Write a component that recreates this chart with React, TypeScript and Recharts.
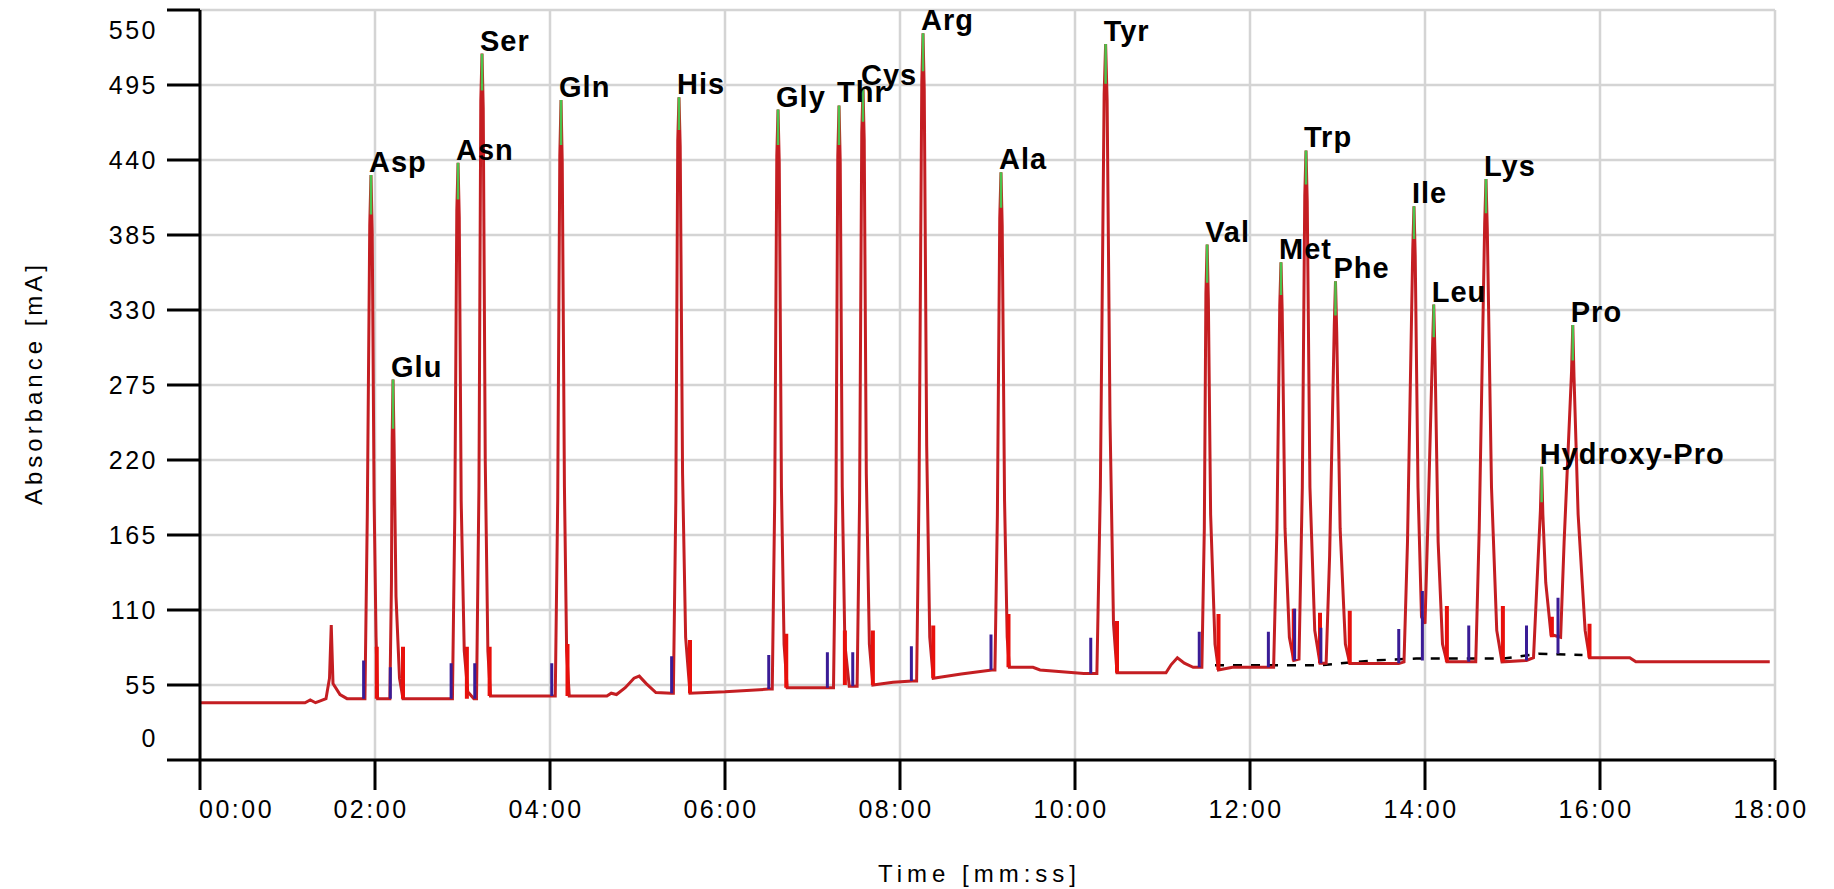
import React from "react";
import {
  ComposedChart,
  Line,
  XAxis,
  YAxis,
  CartesianGrid,
  LabelList,
  Label,
} from "recharts";

// chromatogram trace: [time in min, absorbance mA]
const trace: [number, number][] = [
  [0, 42], [1.2, 42], [1.26, 44], [1.32, 42], [1.36, 43], [1.44, 45], [1.48, 60], [1.5, 99], [1.52, 56], [1.6, 48], [1.68, 45], [1.86, 45],
  [1.885, 45], [1.912, 180], [1.94, 392], [1.954, 429], [1.968, 388], [1.99, 190], [2.012, 90], [2.03, 45],
  [2.17, 45], [2.188, 130], [2.196, 236], [2.206, 279], [2.218, 232], [2.24, 120], [2.28, 60], [2.32, 45],
  [2.86, 45],
  [2.885, 45], [2.912, 180], [2.935, 403], [2.949, 438], [2.963, 398], [2.985, 190], [3.02, 80], [3.06, 50], [3.13, 45],
  [3.16, 45], [3.188, 200], [3.209, 483], [3.223, 518], [3.237, 478], [3.26, 220], [3.29, 80], [3.32, 47],
  [4.03, 47],
  [4.06, 47], [4.088, 190], [4.112, 443], [4.126, 484], [4.14, 438], [4.165, 200], [4.19, 80], [4.22, 47],
  [4.65, 47], [4.7, 49], [4.76, 48], [4.86, 53], [4.96, 60], [5.02, 61.5], [5.1, 56], [5.21, 49.5], [5.39, 49],
  [5.41, 49], [5.438, 190], [5.46, 454], [5.474, 486], [5.488, 450], [5.515, 210], [5.55, 90], [5.6, 49],
  [6.0, 50], [6.5, 52],
  [6.54, 52], [6.568, 190], [6.592, 443], [6.606, 477], [6.62, 438], [6.645, 200], [6.675, 85], [6.71, 53],
  [7.18, 53],
  [7.24, 53], [7.268, 190], [7.289, 443], [7.303, 480], [7.317, 438], [7.34, 200], [7.37, 85], [7.42, 54], [7.47, 54],
  [7.51, 54], [7.538, 190], [7.563, 460], [7.577, 493], [7.591, 455], [7.615, 210], [7.65, 85], [7.69, 55],
  [7.92, 57], [8.14, 58],
  [8.19, 58], [8.218, 200], [8.249, 497], [8.263, 533], [8.277, 492], [8.305, 230], [8.34, 90], [8.38, 60],
  [8.7, 63], [9.05, 66],
  [9.085, 66], [9.113, 180], [9.14, 397], [9.154, 431], [9.168, 392], [9.195, 190], [9.225, 90], [9.25, 68],
  [9.52, 68], [9.6, 66], [10.1, 63.5], [10.19, 63.5],
  [10.25, 63.5], [10.29, 200], [10.333, 488], [10.35, 525], [10.367, 484], [10.4, 250], [10.44, 100], [10.48, 64],
  [11.04, 64], [11.1, 70], [11.17, 75], [11.25, 71], [11.35, 68], [11.43, 68],
  [11.45, 68], [11.478, 170], [11.496, 342], [11.51, 378], [11.524, 338], [11.55, 180], [11.6, 85], [11.64, 66],
  [11.8, 68], [12.22, 68],
  [12.27, 68], [12.308, 170], [12.34, 333], [12.354, 365], [12.368, 329], [12.4, 170], [12.45, 90], [12.5, 73],
  [12.56, 74], [12.598, 200], [12.626, 414], [12.64, 447], [12.654, 410], [12.685, 200], [12.74, 95], [12.8, 71],
  [12.87, 71], [12.91, 150], [12.963, 318], [12.977, 351], [12.991, 314], [13.03, 170], [13.09, 85], [13.14, 70.7],
  [13.7, 70.7],
  [13.76, 72], [13.8, 160], [13.86, 374], [13.874, 406], [13.888, 370], [13.92, 200], [13.96, 105],
  [14.0, 100], [14.04, 190], [14.086, 302], [14.1, 334], [14.114, 298], [14.15, 160], [14.2, 85], [14.25, 72],
  [14.5, 72],
  [14.58, 72], [14.62, 170], [14.682, 393], [14.697, 426], [14.712, 389], [14.76, 200], [14.82, 95], [14.88, 72],
  [15.16, 73],
  [15.24, 75], [15.28, 130], [15.319, 183], [15.333, 215], [15.347, 180], [15.38, 130], [15.44, 92],
  [15.55, 90], [15.59, 160], [15.675, 285], [15.689, 319], [15.703, 281], [15.75, 180], [15.83, 95], [15.88, 75],
  [16.34, 75], [16.41, 72], [17.94, 72],
];

const peakNames = ["Asp", "Glu", "Asn", "Ser", "Gln", "His", "Gly", "Thr", "Cys", "Arg", "Ala", "Tyr", "Val", "Met", "Trp", "Phe", "Ile", "Leu", "Lys", "Hydroxy-Pro", "Pro"];
const peakTimes = [1.954, 2.206, 2.949, 3.223, 4.126, 5.474, 6.606, 7.303, 7.577, 8.263, 9.154, 10.35, 11.51, 12.354, 12.64, 12.977, 13.874, 14.1, 14.697, 15.333, 15.689];
const peakApex = [429, 279, 438, 518, 484, 486, 477, 480, 493, 533, 431, 525, 378, 365, 447, 351, 406, 334, 426, 215, 319];
const peakGreenFrom = [400, 243, 411, 491, 451, 462, 451, 451, 468, 505, 405, 496, 350, 341, 422, 326, 382, 310, 401, 189, 293];

const startMarkTimes = [1.87, 2.175, 2.87, 3.14, 4.02, 5.39, 6.5, 7.17, 7.46, 8.13, 9.04, 10.18, 11.42, 12.21, 12.51, 12.81, 13.7, 13.97, 14.5, 15.16, 15.52];
const startMarkTops = [73, 68, 71, 71, 71, 76, 77, 79, 79, 83.5, 92, 89.6, 94, 94, 111, 97, 96, 124, 98.6, 98.6, 119];
const startMarkBases = [45, 45, 45, 45, 47, 49, 52, 53, 54, 58, 66, 63.5, 68, 68, 73, 71, 71, 73, 72, 73, 78];

const endMarkTimes = [2.02, 2.32, 3.05, 3.31, 4.2, 5.6, 6.7, 7.37, 7.69, 8.38, 9.24, 10.48, 11.64, 12.5, 12.8, 13.14, 14.25, 14.89, 15.45, 15.88];
const endMarkTops = [83, 83, 83, 83, 85, 88, 92.5, 95, 95, 98.6, 107, 102, 107, 111, 108, 109.5, 113, 113, 105, 100];
const endMarkBases = [45, 45, 45, 47, 47, 49, 53, 55, 55, 60, 68, 64, 66, 73, 71, 70.7, 72, 72, 90, 75];

const dashedBaseline: [number, number][] = [
  [11.6, 69.5], [12.8, 69.5], [13.4, 73], [13.9, 74.4], [14.9, 74.4], [15.3, 78], [15.8, 77],
];

const xTicks = [0, 2, 4, 6, 8, 10, 12, 14, 16, 18];
const xTickLabels = ["00:00", "02:00", "04:00", "06:00", "08:00", "10:00", "12:00", "14:00", "16:00", "18:00"];
const yTicks = [0, 55, 110, 165, 220, 275, 330, 385, 440, 495, 550];

const FONT = "'Liberation Sans', Arial, sans-serif";

function segments(times: number[], from: number[], to: number[]) {
  const out: { t: number; v: number | null }[] = [];
  times.forEach((t, i) => {
    out.push({ t, v: from[i] });
    out.push({ t, v: to[i] });
    out.push({ t, v: null });
  });
  return out;
}

const traceData = trace.map(([t, v]) => ({ t, v }));
const dashedData = dashedBaseline.map(([t, v]) => ({ t, v }));
const greenData = segments(peakTimes, peakGreenFrom, peakApex);
const startData = segments(startMarkTimes, startMarkBases, startMarkTops);
const endData = segments(endMarkTimes, endMarkBases, endMarkTops);
const labelData = peakTimes.map((t, i) => ({ t, v: peakApex[i], name: peakNames[i] }));

function YTick(props: any) {
  const { x, y, payload } = props;
  let dy = 0;
  if (payload.value === 550) dy = 20;
  if (payload.value === 0) dy = -22;
  return (
    <text x={x} y={y + dy} textAnchor="end" dominantBaseline="central" fontFamily={FONT} fontSize={25} letterSpacing={2.5} fill="#000">
      {payload.value}
    </text>
  );
}

function XTick(props: any) {
  const { x, y, index } = props;
  const first = index === 0;
  return (
    <text x={first ? x - 1 : x - 4} y={y + 22} textAnchor={first ? "start" : "middle"} fontFamily={FONT} fontSize={25} letterSpacing={2.5} fill="#000">
      {xTickLabels[index]}
    </text>
  );
}

function PeakLabel(props: any) {
  const { x, y, value } = props;
  return (
    <text x={x - 2} y={y - 3} fontFamily={FONT} fontWeight="bold" fontSize={29} letterSpacing={1} fill="#000">
      {value}
    </text>
  );
}

export default function App() {
  return (
    <div style={{ position: "absolute", left: 0, top: 0, width: 1834, height: 889, background: "#fff", overflow: "hidden" }}>
      <ComposedChart width={1834} height={889} margin={{ top: 10, right: 59, bottom: 0, left: 0 }}>
        <CartesianGrid stroke="#d4d4d4" strokeWidth={2.5} />
        <XAxis
          dataKey="t"
          type="number"
          domain={[0, 18]}
          ticks={xTicks}
          height={129}
          tickSize={30}
          tickMargin={6}
          axisLine={{ stroke: "#000", strokeWidth: 3 }}
          tickLine={{ stroke: "#000", strokeWidth: 3 }}
          tick={<XTick />}
          interval={0}
        >
          <Label
            content={(p: any) => (
              <text x={p.viewBox.x + p.viewBox.width / 2 - 8} y={p.viewBox.y + 122} textAnchor="middle" fontFamily={FONT} fontSize={24} letterSpacing={5} fill="#000">
                Time [mm:ss]
              </text>
            )}
          />
        </XAxis>
        <YAxis
          type="number"
          domain={[0, 550]}
          ticks={yTicks}
          width={200}
          tickSize={33}
          tickMargin={9}
          axisLine={{ stroke: "#000", strokeWidth: 3 }}
          tickLine={{ stroke: "#000", strokeWidth: 3 }}
          tick={<YTick />}
          interval={0}
        >
          <Label
            content={(p: any) => {
              const cx = p.viewBox.x + 33;
              const cy = p.viewBox.y + p.viewBox.height / 2 - 2;
              return (
                <text x={cx} y={cy} transform={`rotate(-90 ${cx} ${cy})`} textAnchor="middle" dominantBaseline="central" fontFamily={FONT} fontSize={24} letterSpacing={4} fill="#000">
                  Absorbance [mA]
                </text>
              );
            }}
          />
        </YAxis>
        <Line data={dashedData} dataKey="v" type="linear" stroke="#000" strokeWidth={2.5} strokeDasharray="9 9" dot={false} activeDot={false} isAnimationActive={false} />
        <Line data={traceData} dataKey="v" type="linear" stroke="#c41e22" strokeWidth={3} dot={false} activeDot={false} isAnimationActive={false} />
        <Line data={endData} dataKey="v" type="linear" stroke="#e8100c" strokeWidth={4} dot={false} activeDot={false} connectNulls={false} isAnimationActive={false} />
        <Line data={startData} dataKey="v" type="linear" stroke="#3a1c96" strokeWidth={3} dot={false} activeDot={false} connectNulls={false} isAnimationActive={false} />
        <Line data={greenData} dataKey="v" type="linear" stroke="#4cc24c" strokeWidth={2.5} dot={false} activeDot={false} connectNulls={false} isAnimationActive={false} />
        <Line data={labelData} dataKey="v" type="linear" stroke="none" dot={false} activeDot={false} isAnimationActive={false}>
          <LabelList dataKey="name" content={<PeakLabel />} />
        </Line>
      </ComposedChart>
    </div>
  );
}
